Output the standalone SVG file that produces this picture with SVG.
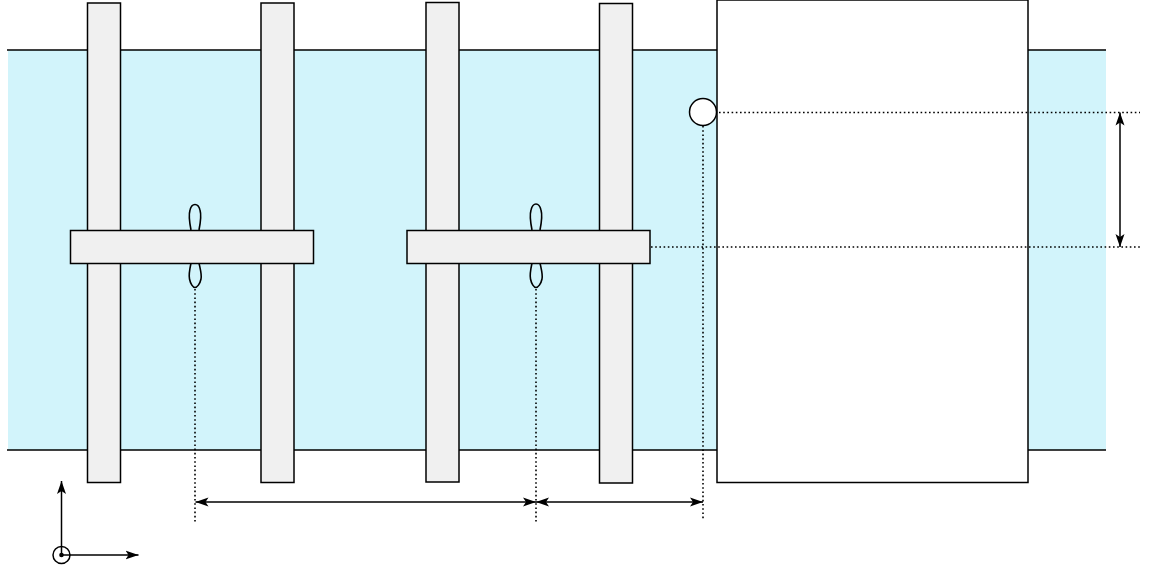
<svg xmlns="http://www.w3.org/2000/svg" width="1169" height="584" viewBox="0 0 1169 584">
<style>
.s{stroke:#000;stroke-width:1.4}
.bar{fill:#f0f0f0;stroke:#000;stroke-width:1.5}
.dot{fill:none;stroke:#000;stroke-width:1.6;stroke-dasharray:1.6 2.6}
.dim{fill:none;stroke:#000;stroke-width:1.5;marker-start:url(#ah);marker-end:url(#ah)}
.ax{fill:none;stroke:#000;stroke-width:1.5;marker-end:url(#ah)}
.lobe{fill:none;stroke:#000;stroke-width:1.6}
</style>
<defs>
<marker id="ah" markerUnits="userSpaceOnUse" markerWidth="14" markerHeight="10" refX="13" refY="5" orient="auto-start-reverse">
<path d="M0 0.5L13 5L0 9.500L3 5Z" fill="#000"/>
</marker>
</defs>
<g id="channel">
<rect x="8" y="50" width="1098" height="400" fill="#d2f4fb"/>
<path class="s" d="M7 50H717M1028 50H1106M7 450H717M1028 450H1106" fill="none"/>
</g>
<g id="block"><rect x="717" y="0" width="311" height="482.500" fill="#fff" stroke="#000" stroke-width="1.500"/></g>
<g id="gate1"><rect class="bar" x="87.500" y="3" width="33" height="479.500"/></g>
<g id="gate2"><rect class="bar" x="261" y="3" width="33" height="479.500"/></g>
<g id="gate3"><rect class="bar" x="426" y="2.500" width="33" height="479.500"/></g>
<g id="gate4"><rect class="bar" x="599.500" y="3.500" width="33" height="479.500"/></g>
<g id="lobes1">
<path class="lobe" d="M191 230C189 220 188.500 215 190 210C191 206 193 204.500 195 204.500C197 204.500 199 206 200 210C201.500 215 201 220 199 230"/>
<path class="lobe" d="M191 263C189.500 270 188.500 275 189.500 279C190.500 284 193 287.500 195 287.500C197 287.500 200 284 201 279C202 275 200.500 270 199 263"/>
</g>
<g id="lobes2">
<path class="lobe" d="M532 230C530 220 529.500 215 531 210C532 206 534 204 536 204C538 204 540 206 541 210C542.500 215 542 220 540 230"/>
<path class="lobe" d="M532 263C530.500 270 529.500 275 530.500 279C531.500 284 534 287.500 536 287.500C538 287.500 541 284 542 279C543 275 541.500 270 540 263"/>
</g>
<g id="crossbar1"><rect class="bar" x="70.500" y="230.500" width="243" height="33"/></g>
<g id="crossbar2"><rect class="bar" x="407" y="230.500" width="243" height="33"/></g>
<g id="connectors">
<path class="dot" d="M719 112.500H1140M651 247H1140M195 289V523M536 289V523M703 126V519"/>
<path class="dim" d="M1120 112.500V247"/>
<path class="dim" d="M195.500 502H536"/>
<path class="dim" d="M536 502H703"/>
<path class="ax" d="M61.500 555V481"/>
<path class="ax" d="M61.500 555H138.500"/>
</g>
<g id="circle"><circle cx="703" cy="112" r="13.500" fill="#fff" stroke="#000" stroke-width="1.500"/></g>
<g id="axis-origin">
<circle cx="61.500" cy="555" r="8.500" fill="none" stroke="#000" stroke-width="1.500"/>
<circle cx="61.500" cy="555" r="2.300" fill="#000"/>
</g>
</svg>
